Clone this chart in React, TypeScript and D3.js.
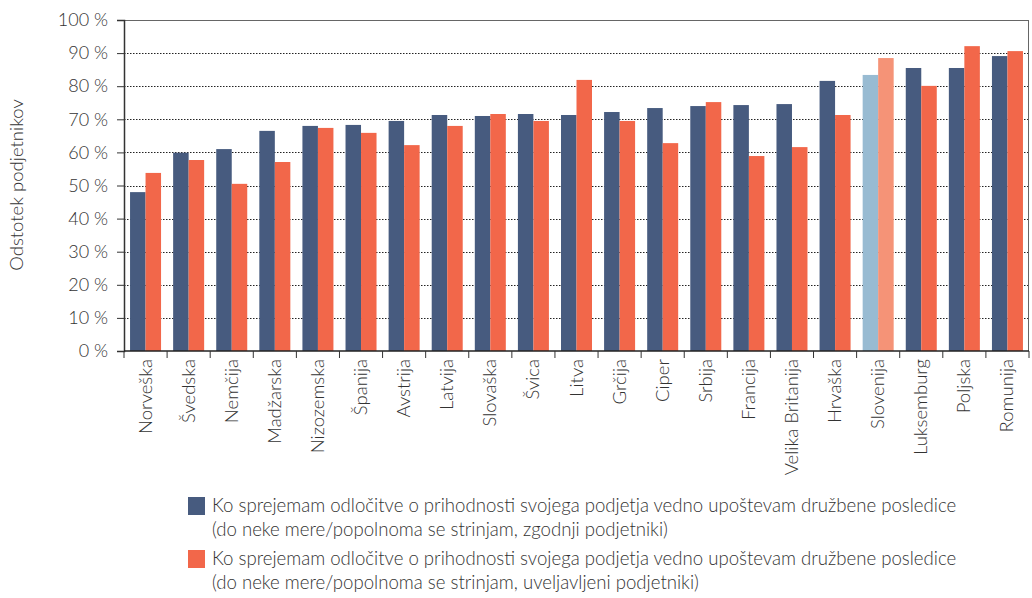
import React, { useEffect, useRef } from 'react';
import * as d3 from 'd3';

const countries = [
    'Norveška', 'Švedska', 'Nemčija', 'Madžarska', 'Nizozemska', 'Španija', 'Avstrija',
    'Latvija', 'Slovaška', 'Švica', 'Litva', 'Grčija', 'Ciper', 'Srbija', 'Francija',
    'Velika Britanija', 'Hrvaška', 'Slovenija', 'Luksemburg', 'Poljska', 'Romunija',
];

// zgodnji podjetniki
const earlyValues = [
    48.0, 59.9, 61.0, 66.5, 68.0, 68.3, 69.5, 71.3, 71.0, 71.6, 71.3,
    72.2, 73.4, 74.0, 74.3, 74.6, 81.6, 83.4, 85.5, 85.5, 89.1,
];

// uveljavljeni podjetniki
const establishedValues = [
    53.8, 57.7, 50.5, 57.1, 67.4, 65.9, 62.2, 68.0, 71.6, 69.5, 81.9,
    69.5, 62.8, 75.2, 58.9, 61.6, 71.3, 88.5, 80.1, 92.1, 90.6,
];

const yTicks = [0, 10, 20, 30, 40, 50, 60, 70, 80, 90, 100];

const legendLines = [
    ['Ko sprejemam odločitve o prihodnosti svojega podjetja vedno upoštevam družbene posledice',
        '(do neke mere/popolnoma se strinjam, zgodnji podjetniki)'],
    ['Ko sprejemam odločitve o prihodnosti svojega podjetja vedno upoštevam družbene posledice',
        '(do neke mere/popolnoma se strinjam, uveljavljeni podjetniki)'],
];

const highlight = 'Slovenija';
const colors = { early: '#475b7f', established: '#f2674a', earlyHi: '#98bbd2', establishedHi: '#f59377' };
const FONT = 'Lato, "Noto Sans", sans-serif';
const TEXT = '#333';

const App: React.FC = () => {
    const svgRef = useRef<SVGSVGElement>(null);

    useEffect(() => {
        if (!svgRef.current) return;
        document.body.style.margin = '0';

        const width = 1032;
        const height = 598;
        const margin = { top: 20, right: 3, bottom: 247, left: 124 };

        const svg = d3.select(svgRef.current)
            .attr('width', width)
            .attr('height', height)
            .style('display', 'block')
            .style('font-family', FONT)
            .style('font-weight', 300);
        svg.selectAll('*').remove();

        const innerW = width - margin.left - margin.right;
        const innerH = height - margin.top - margin.bottom;

        const g = svg.append('g').attr('transform', `translate(${margin.left},${margin.top})`);

        const x = d3.scaleBand().domain(countries).range([0, innerW]).paddingInner(0).paddingOuter(0);
        const x1 = d3.scaleBand().domain(['early', 'established']).range([0, x.bandwidth()]).paddingOuter(0.39).paddingInner(0);
        const y = d3.scaleLinear().domain([0, 100]).range([innerH, 0]);

        // dotted gridlines
        g.selectAll('.grid')
            .data(yTicks.filter(t => t > 0 && t < 100))
            .enter()
            .append('line')
            .attr('x1', 0)
            .attr('x2', innerW)
            .attr('y1', d => Math.round(y(d)) + 0.5)
            .attr('y2', d => Math.round(y(d)) + 0.5)
            .attr('stroke', '#222')
            .attr('stroke-width', 1)
            .attr('stroke-dasharray', '1.5,1.5');

        // bars
        const groups = g.selectAll('.group')
            .data(countries)
            .enter()
            .append('g')
            .attr('transform', d => `translate(${x(d)},0)`);

        groups.append('rect')
            .attr('x', x1('early')!)
            .attr('width', x1.bandwidth())
            .attr('y', (_, i) => y(earlyValues[i]))
            .attr('height', (_, i) => innerH - y(earlyValues[i]))
            .attr('fill', d => d === highlight ? colors.earlyHi : colors.early);

        groups.append('rect')
            .attr('x', x1('established')!)
            .attr('width', x1.bandwidth())
            .attr('y', (_, i) => y(establishedValues[i]))
            .attr('height', (_, i) => innerH - y(establishedValues[i]))
            .attr('fill', d => d === highlight ? colors.establishedHi : colors.established);

        // frame: top and right
        g.append('line')
            .attr('x1', 0).attr('x2', innerW)
            .attr('y1', 0.5).attr('y2', 0.5)
            .attr('stroke', '#666').attr('stroke-width', 1);
        g.append('line')
            .attr('x1', innerW - 0.5).attr('x2', innerW - 0.5)
            .attr('y1', 0).attr('y2', innerH)
            .attr('stroke', '#666').attr('stroke-width', 1);

        // y axis
        const yAxis = g.append('g')
            .call(d3.axisLeft(y).tickValues(yTicks).tickSize(7).tickPadding(9).tickFormat(d => `${d} %`));
        yAxis.select('.domain').attr('stroke', '#333').attr('stroke-width', 1.5);
        yAxis.selectAll('.tick line').attr('stroke', '#333');
        yAxis.selectAll('text')
            .style('font-family', FONT)
            .style('font-size', '18px')
            .style('fill', TEXT);

        // x axis with ticks at band boundaries
        const xAxis = g.append('g').attr('transform', `translate(0,${innerH})`);
        xAxis.append('line')
            .attr('x1', 0).attr('x2', innerW)
            .attr('y1', 0).attr('y2', 0)
            .attr('stroke', '#222').attr('stroke-width', 1.5);
        xAxis.selectAll('.xtick')
            .data([...countries.map(c => x(c)!), innerW])
            .enter()
            .append('line')
            .attr('x1', d => d).attr('x2', d => d)
            .attr('y1', 0).attr('y2', 7)
            .attr('stroke', '#333');
        xAxis.selectAll('.xlabel')
            .data(countries)
            .enter()
            .append('text')
            .attr('transform', d => `translate(${x(d)! + x.bandwidth() / 2 + 6},8) rotate(-90)`)
            .attr('text-anchor', 'end')
            .style('font-size', '18.5px')
            .style('fill', TEXT)
            .text(d => d);

        // y axis title
        svg.append('text')
            .attr('transform', `translate(23,${185}) rotate(-90)`)
            .attr('text-anchor', 'middle')
            .style('font-size', '18.5px')
            .style('fill', TEXT)
            .text('Odstotek podjetnikov');

        // legend
        const legendColors = [colors.early, colors.established];
        const legend = svg.append('g').attr('transform', 'translate(188,497)');
        legendLines.forEach((lines, i) => {
            const row = legend.append('g').attr('transform', `translate(0,${i * 53})`);
            row.append('rect')
                .attr('width', 17).attr('height', 18)
                .attr('fill', legendColors[i]);
            lines.forEach((line, j) => {
                row.append('text')
                    .attr('x', 24)
                    .attr('y', 15 + j * 24)
                    .style('font-size', '18.6px')
                    .style('fill', TEXT)
                    .text(line);
            });
        });
    }, []);

    return <svg ref={svgRef}></svg>;
};

export default App;
